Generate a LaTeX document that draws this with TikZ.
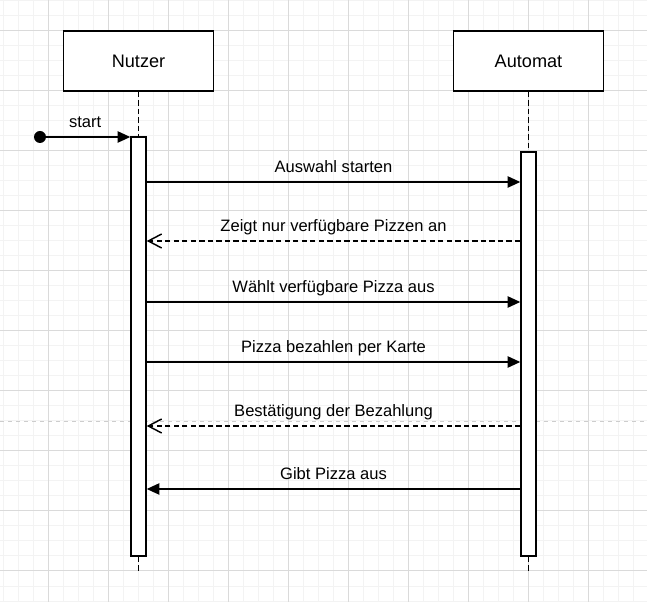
\documentclass[tikz,border=0pt]{standalone}
\usepackage{fontspec}
\setmainfont{Liberation Sans}
\usetikzlibrary{arrows.meta}
\definecolor{gridminor}{HTML}{F3F3F3}
\definecolor{gridmajor}{HTML}{DADADA}
\definecolor{pagebreak}{HTML}{CDCDCD}
\begin{document}
\begin{tikzpicture}
[x=0.75pt,y=-0.75pt,line width=1.1pt,font=\fontsize{12.4}{15}\selectfont,
 actor/.style={draw,fill=white,minimum width=112.5pt,minimum height=45pt,font=\fontsize{13.6}{16}\selectfont},
 bar/.style={draw,fill=white,minimum width=11.25pt,inner sep=0pt},
 life/.style={dash pattern=on 4pt off 2.4pt},
 call/.style={-{Triangle[length=9.5pt,width=8.5pt]}},
 reply/.style={dash pattern=on 4pt off 2.4pt,-{Straight Barb[length=10pt,width=10.5pt]}},
 lbl/.style={anchor=base,yshift=6.75pt,inner sep=0pt}]

\useasboundingbox (0,0) rectangle (647,602);
\fill[white] (0,0) rectangle (647,602);

% grid
\foreach \x in {3,18,...,645} \draw[gridminor,line width=0.75pt] (\x,0) -- (\x,602);
\foreach \y in {1,16,...,601} \draw[gridminor,line width=0.75pt] (0,\y) -- (647,\y);
\foreach \x in {48,108,...,588} \draw[gridmajor,line width=0.75pt] (\x,0) -- (\x,602);
\foreach \y in {31,91,...,571} \draw[gridmajor,line width=0.75pt] (0,\y) -- (647,\y);
\draw[pagebreak,line width=0.75pt,dash pattern=on 3pt off 3pt] (0,421.7) -- (647,421.7); %page break

\node[actor] (nutzer) at (138.5,61) {Nutzer};
\node[actor] (automat) at (528.5,61) {Automat};

\node[bar,minimum height=314.25pt] (nutzerbar) at (138.5,346.5) {};
\node[bar,minimum height=303pt] (automatbar) at (528.5,354) {};

\coordinate (nutzerend) at (138.5,572);
\coordinate (automatend) at (528.5,572);
\draw[life] (nutzer) -- (nutzerbar);
\draw[life] (nutzerbar) -- (nutzerend);
\draw[life] (automat) -- (automatbar);
\draw[life] (automatbar) -- (automatend);

\node[circle,fill,minimum size=9pt,inner sep=0pt] (start) at (40,137) {};
\draw[call] (start.center) -- node[lbl]{start} (nutzerbar.west |- start.center);

\foreach \y/\a/\b/\s/\t in {
  182/nutzerbar.east/automatbar.west/call/Auswahl starten,
  241/automatbar.west/nutzerbar.east/reply/Zeigt nur verfügbare Pizzen an,
  302/nutzerbar.east/automatbar.west/call/Wählt verfügbare Pizza aus,
  362/nutzerbar.east/automatbar.west/call/Pizza bezahlen per Karte,
  426/automatbar.west/nutzerbar.east/reply/Bestätigung der Bezahlung,
  489/automatbar.west/nutzerbar.east/call/Gibt Pizza aus}
  \draw[\s] (\a |- 0,\y) -- node[lbl]{\t} (\b |- 0,\y);

\end{tikzpicture}
\end{document}
